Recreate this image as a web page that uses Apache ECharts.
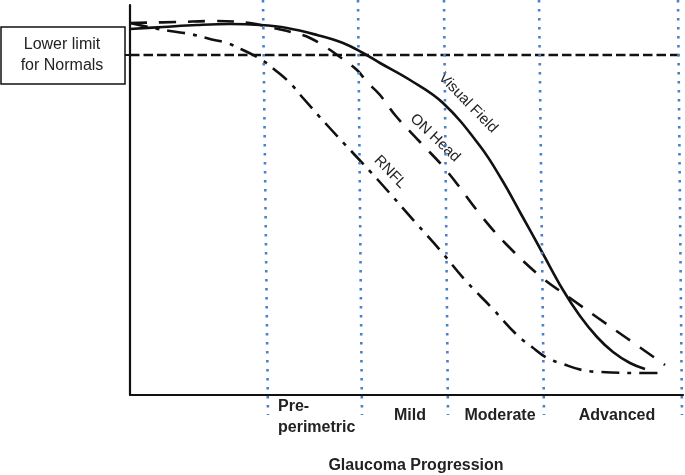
<!DOCTYPE html>
<html><head><meta charset="utf-8">
<script src="https://cdn.jsdelivr.net/npm/echarts/dist/echarts.min.js"></script>
<style>html,body{margin:0;padding:0;background:#fff}#c{width:685px;height:475px}</style>
</head><body><div id="c"></div>
<script>
// x: progression position (0 = onset), y: measured function level
const visualField = [[0,366],[33,368],[67,370],[100,371],[130,370],[157,367],[187,360],[213,352],[233,342],[250,332],[280,315],[313,292],[350,249],[372,215],[391,181],[412,143],[433,105],[450,79],[467,58],[483,43],[500,32],[515,26]];
const onHead = [[0,372],[48,373],[84,374],[120,372],[143,367],[165,362],[180,357],[197,347],[210,338],[227,325],[237,313],[250,300],[265,280],[290,253],[316,225],[353,177],[377,150],[410,119],[440,97],[468,77],[498,56],[535,30]];
const rnfl = [[0,372],[23,367],[40,364],[60,361],[80,356],[97,352],[113,345],[132,335],[145,325],[160,312],[173,297],[197,270],[223,242],[248,215],[285,173],[310,145],[335,115],[362,87],[387,60],[402,48],[417,37],[433,31],[452,25],[470,23],[510,22],[530,22]];
const lowerLimit = 340;
const dividerTop = [133,228,314,409,548];
const dividerBottom = [138,232,318,414,552];
const stageNames = ['Pre-\nperimetric','Mild','Moderate','Advanced'];
const curveNames = ['Visual Field','ON Head','RNFL'];

const FONT = '"Liberation Sans", Arial, Helvetica, sans-serif';
const chart = echarts.init(document.getElementById('c'), null, {renderer:'canvas'});

const series = [];
const curves = [visualField, onHead, rnfl];
const dashes = ['solid', [17,12], [18,8,4,8]];
curves.forEach((d,i)=>{
  series.push({type:'line', name:curveNames[i], xAxisIndex:0, yAxisIndex:0, data:d, symbol:'none',
    smooth:0.4, silent:true,
    lineStyle:{color:'#111', width:2.6, type:dashes[i]}});
});
series.push({type:'line', xAxisIndex:0, yAxisIndex:0, data:[[0,lowerLimit],[553,lowerLimit]], symbol:'none', silent:true,
  lineStyle:{color:'#111', width:2.3, type:[9.5,4]}});
dividerTop.forEach((x,i)=>{
  series.push({type:'line', xAxisIndex:1, yAxisIndex:1, data:[[x,1],[dividerBottom[i],0]], symbol:'none', silent:true,
    lineStyle:{color:'#4a80c8', width:2.6, type:[2.6,6.4]}});
});

const stagePos = [[278,396,'left'],[410,416,'center'],[500,416,'center'],[617,416,'center']];
const graphic = [
  {type:'rect', shape:{x:1,y:27,width:124,height:57}, style:{fill:'#fff', stroke:'#111', lineWidth:1.5}},
  {type:'line', shape:{x1:125,y1:55,x2:131,y2:55}, style:{stroke:'#111', lineWidth:2}},
  {type:'text', x:62, y:45, style:{text:'Lower limit', font:'16px '+FONT, fill:'#222', align:'center', verticalAlign:'middle'}},
  {type:'text', x:62, y:66, style:{text:'for Normals', font:'16px '+FONT, fill:'#222', align:'center', verticalAlign:'middle'}},
  {type:'text', x:468, y:103, rotation:-0.8, style:{text:curveNames[0], font:'15px '+FONT, fill:'#222', align:'center', verticalAlign:'middle'}},
  {type:'text', x:435, y:138, rotation:-0.76, style:{text:curveNames[1], font:'15px '+FONT, fill:'#222', align:'center', verticalAlign:'middle'}},
  {type:'text', x:390, y:172, rotation:-0.8, style:{text:curveNames[2], font:'15px '+FONT, fill:'#222', align:'center', verticalAlign:'middle'}},
  {type:'text', x:416, y:466, style:{text:'Glaucoma Progression', font:'bold 16px '+FONT, fill:'#222', align:'center', verticalAlign:'middle'}}
];
stageNames.forEach((s,i)=>{
  const p = stagePos[i];
  graphic.push({type:'text', x:p[0], y:p[1], style:{text:s, font:'bold 16px '+FONT, fill:'#222', align:p[2], verticalAlign:i===0?'top':'middle', lineHeight:21}});
});

chart.setOption({
  animation:false,
  grid:[{left:130, top:5, width:553, height:390},{left:130, top:0, width:553, height:415}],
  xAxis:[
    {type:'value', gridIndex:0, min:0, max:553, axisLine:{show:true, lineStyle:{color:'#111', width:2.2}}, axisTick:{show:false}, axisLabel:{show:false}, splitLine:{show:false}},
    {type:'value', gridIndex:1, min:0, max:553, show:false}
  ],
  yAxis:[
    {type:'value', gridIndex:0, min:0, max:390, axisLine:{show:true, onZero:false, lineStyle:{color:'#111', width:2.2}}, axisTick:{show:false}, axisLabel:{show:false}, splitLine:{show:false}},
    {type:'value', gridIndex:1, min:0, max:1, show:false}
  ],
  series:series,
  graphic:graphic
});
</script></body></html>
